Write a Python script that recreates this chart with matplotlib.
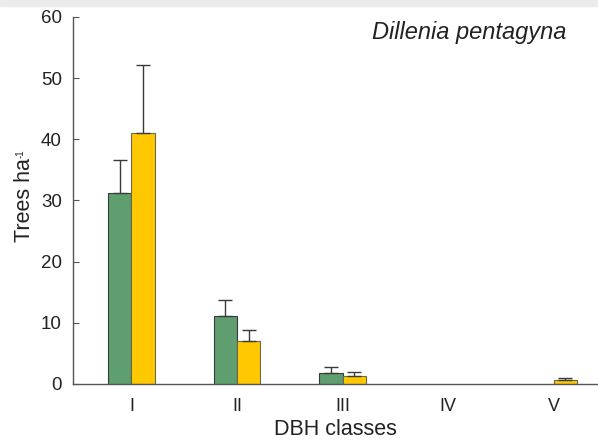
import numpy as np
import matplotlib.pyplot as plt
from matplotlib.patches import Rectangle

plt.rcParams['font.family'] = ['Liberation Sans', 'DejaVu Sans']

classes = ["I", "II", "III", "IV", "V"]
green_vals = [31.2, 11.1, 1.75, 0, 0]
green_err = [5.4, 2.6, 1.05, 0, 0]
yellow_vals = [41.0, 7.0, 1.3, 0, 0.65]
yellow_err = [11.1, 1.8, 0.7, 0, 0.3]

fig = plt.figure(figsize=(5.98, 4.41), dpi=100)
fig.patches.append(Rectangle((0, 0.987), 1, 0.013, transform=fig.transFigure,
                             color="#ebebeb", zorder=0))
ax = fig.add_axes([0.122, 0.1293, 0.878, 0.8322])

x = np.arange(len(classes))
w = 0.222
ekw = dict(ecolor="#3a3a3a", elinewidth=1, capsize=4.8, capthick=1)
for i in range(len(classes)):
    if green_vals[i] > 0:
        ax.bar(x[i] - w / 2, green_vals[i], w, color="#5f9e6e", edgecolor="#3a3a3a",
               linewidth=0.8, yerr=[[0], [green_err[i]]], error_kw=ekw, zorder=2)
    if yellow_vals[i] > 0:
        ax.bar(x[i] + w / 2, yellow_vals[i], w, color="#ffc800", edgecolor="#6a6a4a",
               linewidth=0.8, yerr=[[0], [yellow_err[i]]], error_kw=ekw, zorder=2)

ax.set_xlim(-0.554, 4.42)
ax.set_ylim(0, 60)
ax.set_yticks([0, 10, 20, 30, 40, 50, 60])
ax.set_xticks(x)
ax.set_xticklabels(classes)
ax.spines["top"].set_visible(False)
ax.spines["right"].set_visible(False)
for s in ["left", "bottom"]:
    ax.spines[s].set_color("#555555")
    ax.spines[s].set_linewidth(1)
ax.tick_params(axis="y", direction="in", length=4, color="#555555", labelsize=13.5,
               pad=8, labelcolor="#222222")
ax.tick_params(axis="x", length=0, labelsize=13, pad=10, labelcolor="#222222")

ax.set_ylabel("Trees ha", fontsize=15.5, color="#222222", labelpad=4)
ax.set_xlabel("DBH classes", fontsize=15.5, color="#222222", labelpad=3)
ax.text(0.939, 0.959, "Dillenia pentagyna", transform=ax.transAxes, ha="right",
        va="center", fontsize=17, style="italic", color="#222222")

# small superscript after the y label
fig.canvas.draw()
bb = ax.yaxis.label.get_window_extent()
fig.text((bb.x0 + 1) / fig.bbox.width, (bb.y1 + 1) / fig.bbox.height, "-1",
         rotation=90, fontsize=7, color="#222222", ha="left", va="bottom")

fig.savefig("out.png", dpi=100)
